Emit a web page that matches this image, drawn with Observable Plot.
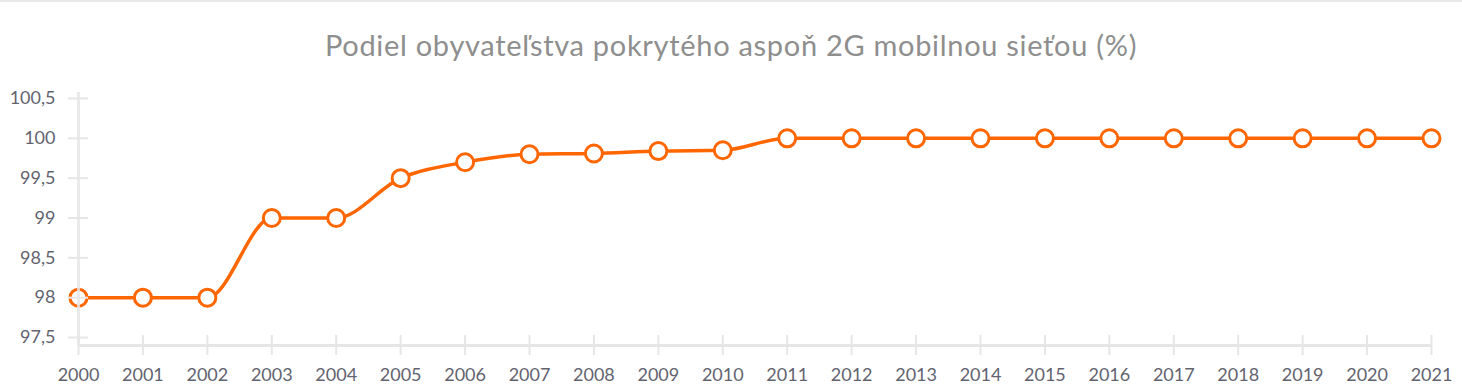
<!DOCTYPE html>
<html>
<head>
<meta charset="utf-8">
<script src="https://cdn.jsdelivr.net/npm/d3@7"></script>
<script src="https://cdn.jsdelivr.net/npm/@observablehq/plot@0.6"></script>
<style>
  html, body { margin: 0; padding: 0; background: #fff; }
  #wrap { width: 1462px; height: 386px; border-top: 2px solid #e8e8e8; box-sizing: border-box; }
  #title { height: 78px; line-height: 86px; text-align: center; font-family: Lato, sans-serif; font-size: 29px; letter-spacing: 0.7px; color: #8e8e8e; }
  svg { display: block; }
</style>
</head>
<body>
<div id="wrap">
  <div id="title">Podiel obyvateľstva pokrytého aspoň 2G mobilnou sieťou (%)</div>
  <div id="chart"></div>
</div>
<script>
const years = [2000, 2001, 2002, 2003, 2004, 2005, 2006, 2007, 2008, 2009, 2010, 2011, 2012, 2013, 2014, 2015, 2016, 2017, 2018, 2019, 2020, 2021];
const coverage = [98, 98, 98, 99, 99, 99.5, 99.7, 99.8, 99.81, 99.84, 99.85, 100, 100, 100, 100, 100, 100, 100, 100, 100, 100, 100];
const yTicks = [97.5, 98, 98.5, 99, 99.5, 100, 100.5];

const data = years.map((y, i) => ({year: y, value: coverage[i]}));
const fmt = v => String(v).replace(".", ",");
const axisColor = "#e6e6e6";
const textColor = "#63636f";

const chart = Plot.plot({
  width: 1462,
  height: 306,
  marginLeft: 78,
  marginRight: 31,
  marginTop: 12,
  marginBottom: 41,
  style: {fontFamily: "Lato, sans-serif", fontSize: "18px", color: textColor, background: "white"},
  x: {domain: [2000, 2021]},
  y: {domain: [97.4, 100.575]},
  marks: [
    Plot.line(data, {x: "year", y: "value", stroke: "#ff6600", strokeWidth: 3.5, curve: "monotone-x"}),
    Plot.dot(data, {x: "year", y: "value", r: 8.5, fill: "white", stroke: "#ff6600", strokeWidth: 3}),
    Plot.ruleX([2000], {stroke: axisColor, strokeWidth: 3, strokeOpacity: 0.85}),
    Plot.ruleY([97.4], {stroke: axisColor, strokeWidth: 3}),
    Plot.axisY({ticks: yTicks, tickFormat: fmt, tickSize: 20, dx: 10, tickPadding: 13, stroke: axisColor, strokeWidth: 2, strokeOpacity: 1, fill: textColor, label: null}),
    Plot.axisX({ticks: years, tickFormat: d => String(d), tickSize: 20, dy: -10, tickPadding: 13, stroke: axisColor, strokeWidth: 2, strokeOpacity: 1, fill: textColor, label: null})
  ]
});
document.getElementById("chart").appendChild(chart);
</script>
</body>
</html>
